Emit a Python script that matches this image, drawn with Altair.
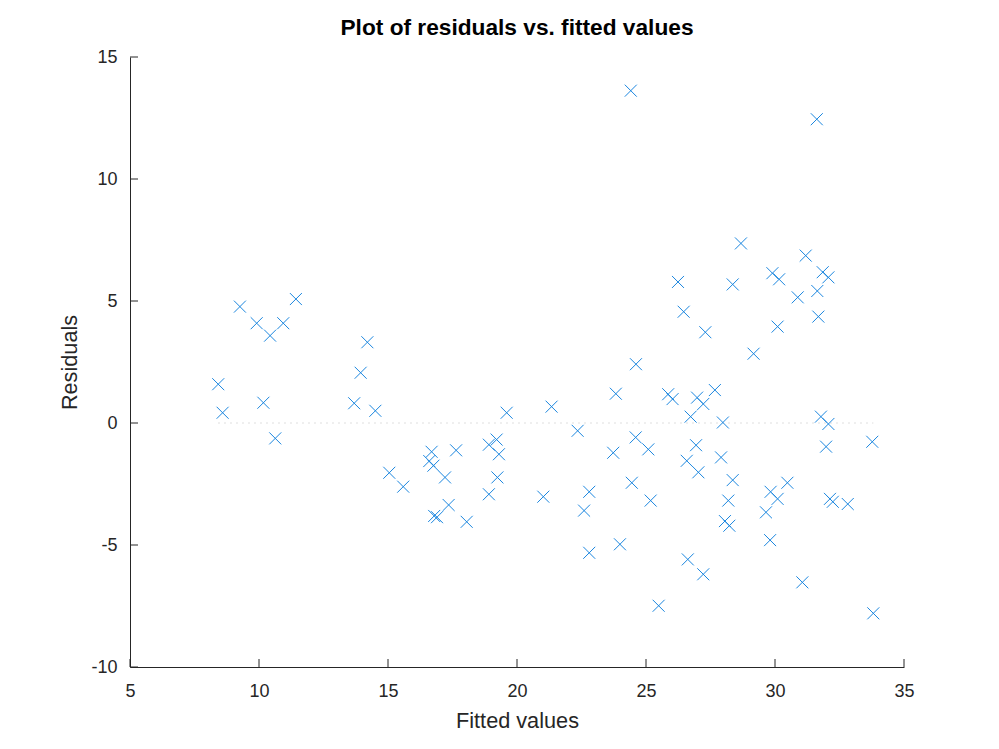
import altair as alt
import pandas as pd

# Fitted values and residuals
fitted = [
    8.42, 8.59, 9.26, 9.91, 10.17, 10.43, 10.63, 10.94, 11.43, 13.69,
    13.94, 14.20, 14.51, 15.05, 15.59, 16.69, 16.60, 16.76, 17.21, 17.64,
    17.35, 16.79, 16.90, 18.05, 18.91, 19.21, 19.30, 19.24, 18.91, 19.60,
    21.02, 21.34, 22.35, 22.60, 22.80, 22.80, 23.73, 23.83, 23.99, 24.41,
    24.45, 24.60, 24.61, 25.09, 25.18, 25.49, 25.86, 26.03, 26.24, 26.46,
    26.58, 26.62, 26.73, 26.94, 26.98, 27.03, 27.22, 27.22, 27.30, 27.67,
    27.91, 27.98, 28.06, 28.23, 28.19, 28.36, 28.36, 28.68, 29.17, 29.65,
    29.81, 29.83, 29.90, 30.10, 30.10, 30.16, 30.48, 30.88, 31.06, 31.19,
    31.62, 31.64, 31.68, 31.78, 31.85, 31.98, 32.07, 32.07, 32.13, 32.24,
    32.82, 33.77, 33.81,
]
residuals = [
    1.59, 0.42, 4.77, 4.09, 0.83, 3.58, -0.63, 4.09, 5.08, 0.81,
    2.06, 3.31, 0.50, -2.04, -2.61, -1.18, -1.56, -1.75, -2.23, -1.12,
    -3.36, -3.81, -3.86, -4.05, -0.89, -0.68, -1.28, -2.23, -2.92, 0.42,
    -3.02, 0.67, -0.32, -3.59, -2.82, -5.32, -1.22, 1.20, -4.97, 13.62,
    -2.45, -0.59, 2.41, -1.08, -3.18, -7.49, 1.18, 0.98, 5.78, 4.56,
    -1.55, -5.59, 0.26, -0.91, 1.04, -2.02, 0.78, -6.20, 3.72, 1.35,
    -1.41, 0.02, -4.02, -4.21, -3.18, -2.34, 5.68, 7.36, 2.84, -3.66,
    -4.80, -2.82, 6.14, 3.95, -3.11, 5.89, -2.45, 5.15, -6.53, 6.86,
    12.45, 5.41, 4.36, 0.26, 6.18, -0.97, 5.97, -0.04, -3.11, -3.23,
    -3.32, -0.77, -7.80,
]

x_ticks = [5, 10, 15, 20, 25, 30, 35]
y_ticks = [-10, -5, 0, 5, 10, 15]

W, H = 774, 610
AXIS = "#262626"
BLUE = "#1a86df"
FONT = "Liberation Sans"

df = pd.DataFrame({"fitted": fitted, "residual": residuals})
xt = pd.DataFrame({"t": x_ticks})
yt = pd.DataFrame({"t": y_ticks})

xscale = alt.Scale(domain=[5, 35], nice=False, zero=False)
yscale = alt.Scale(domain=[-10, 15], nice=False, zero=False)

xaxis = alt.Axis(
    values=x_ticks,
    ticks=False,
    labelPadding=15,
    labelFlush=False,
    labelExpr="'' + datum.value",
    title="Fitted values",
    titleBaseline="alphabetic",
    titleY=60,
)
yaxis = alt.Axis(
    values=y_ticks,
    ticks=False,
    labelPadding=13,
    labelFlush=False,
    labelExpr="'' + datum.value",
    title="Residuals",
    titleAngle=270,
    titleBaseline="alphabetic",
    titleAlign="center",
    titleX=-54,
    titleY=H / 2,
)

zero_line = alt.Chart(df).mark_rule(
    color="#d4d4d4", strokeDash=[1.5, 4.5], strokeWidth=1
).encode(
    x=alt.X("min(fitted):Q", scale=xscale, axis=xaxis),
    x2="max(fitted):Q",
    y=alt.datum(0, scale=yscale, axis=yaxis),
)

points = alt.Chart(df).mark_point(
    shape="M-1,-1L1,1M1,-1L-1,1",
    size=144,
    filled=False,
    strokeWidth=1,
    opacity=1,
    color=BLUE,
).encode(
    x=alt.X("fitted:Q", scale=xscale, axis=xaxis),
    y=alt.Y("residual:Q", scale=yscale, axis=yaxis),
)

x_tick_marks = alt.Chart(xt).mark_rule(color=AXIS, strokeWidth=1).encode(
    x=alt.X("t:Q", scale=xscale, axis=xaxis),
    y=alt.value(H),
    y2=alt.value(H - 8),
)

y_tick_marks = alt.Chart(yt).mark_rule(color=AXIS, strokeWidth=1).encode(
    y=alt.Y("t:Q", scale=yscale, axis=yaxis),
    x=alt.value(0),
    x2=alt.value(8),
)

chart = alt.layer(zero_line, points, x_tick_marks, y_tick_marks).properties(
    width=W,
    height=H,
    padding={"left": 130, "top": 57, "right": 95, "bottom": 82},
    autosize=alt.AutoSizeParams(type="none"),
    title=alt.TitleParams(
        "Plot of residuals vs. fitted values",
        font=FONT,
        fontSize=22.7,
        fontWeight="bold",
        color="#000000",
        anchor="middle",
        frame="group",
        offset=8,
    ),
).configure_view(stroke=None).configure_axis(
    grid=False,
    domainColor=AXIS,
    domainWidth=1,
    labelColor=AXIS,
    labelFont=FONT,
    labelFontSize=18,
    titleColor=AXIS,
    titleFont=FONT,
    titleFontSize=21.7,
    titleFontWeight="normal",
)

chart.save("out.html", embed_options={"renderer": "svg", "actions": False})
